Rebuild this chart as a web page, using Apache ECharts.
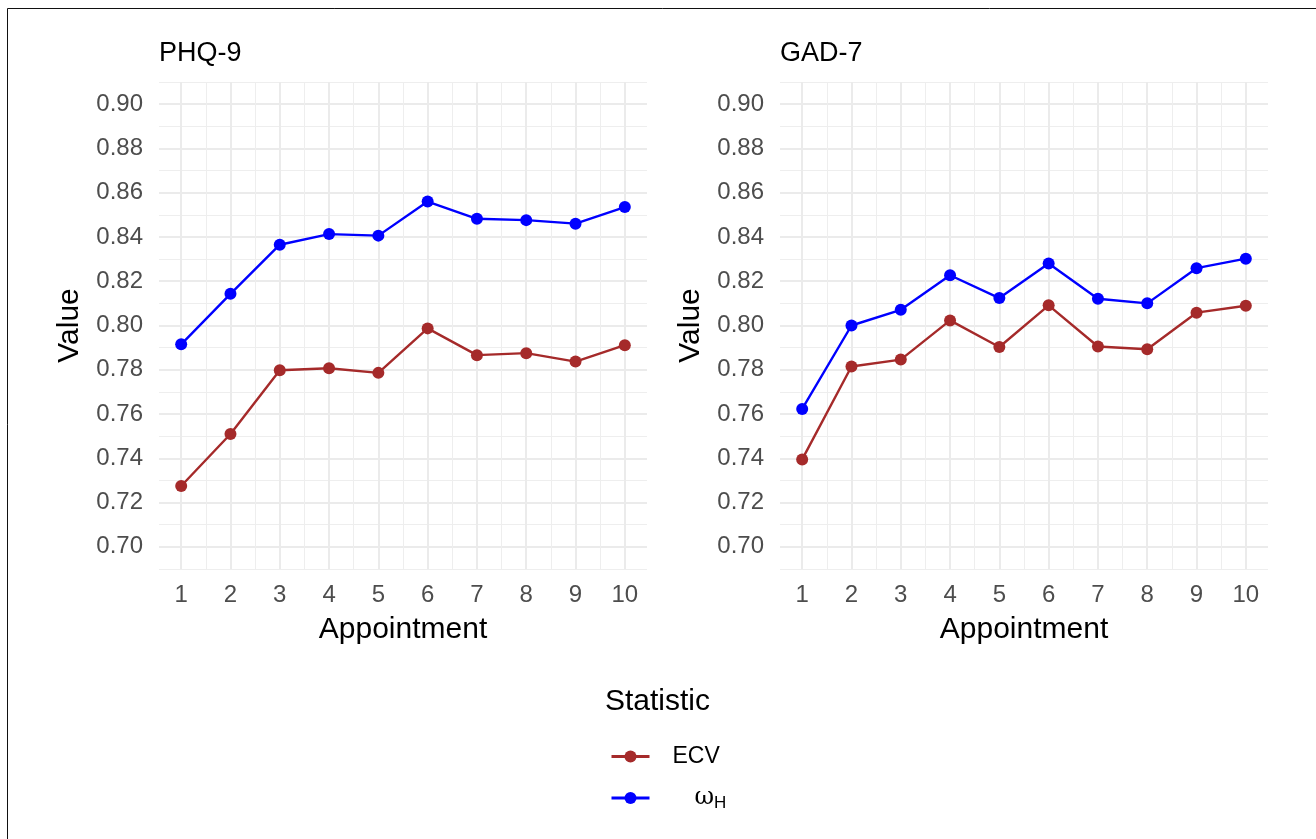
<!DOCTYPE html>
<html>
<head>
<meta charset="utf-8">
<script src="https://cdn.jsdelivr.net/npm/echarts@6/dist/echarts.min.js"></script>
<style>
html,body{margin:0;padding:0;background:#fff;}
#chart{width:1316px;height:839px;}
</style>
</head>
<body>
<div id="chart"></div>
<script>
// ---- data ----
const appointments = [1, 2, 3, 4, 5, 6, 7, 8, 9, 10];
const phqECV   = [0.7275, 0.7510, 0.7798, 0.7807, 0.7786, 0.7987, 0.7866, 0.7875, 0.7837, 0.7911];
const phqOmega = [0.7915, 0.8143, 0.8365, 0.8413, 0.8406, 0.8560, 0.8482, 0.8476, 0.8460, 0.8535];
const gadECV   = [0.7395, 0.7815, 0.7846, 0.8023, 0.7903, 0.8091, 0.7905, 0.7893, 0.8058, 0.8089];
const gadOmega = [0.7623, 0.8000, 0.8071, 0.8227, 0.8124, 0.8280, 0.8121, 0.8100, 0.8259, 0.8302];
const yTicks  = [0.70, 0.72, 0.74, 0.76, 0.78, 0.80, 0.82, 0.84, 0.86, 0.88, 0.90];
const yMinor  = [0.69, 0.71, 0.73, 0.75, 0.77, 0.79, 0.81, 0.83, 0.85, 0.87, 0.89, 0.91];
const xMinor  = [1.5, 2.5, 3.5, 4.5, 5.5, 6.5, 7.5, 8.5, 9.5];
const panelTitles = ['PHQ-9', 'GAD-7'];
const statNames = ['ECV', 'ωH'];

const FONT = '"Liberation Sans", Arial, Helvetica, sans-serif';
const RED = '#A52A2A', BLUE = '#0000FF';
const MAJOR = '#EBEBEB', MINOR = '#EEEEEE';

const pairs = ys => appointments.map((x, i) => [x, ys[i]]);

const gridLeft = [159, 780];
const grids = gridLeft.map(l => ({left: l, top: 82, width: 488, height: 487}));

const xAxes = [], yAxes = [];
[0, 1].forEach(g => {
  xAxes.push({
    gridIndex: g, type: 'value', min: 0.55, max: 10.45,
    axisLine: {show: false}, axisTick: {show: false, customValues: appointments},
    axisLabel: {customValues: appointments, color: '#4D4D4D', fontSize: 24, fontFamily: FONT, margin: 14},
    splitLine: {show: true, lineStyle: {color: MAJOR, width: 2}},
    name: 'Appointment', nameLocation: 'middle', nameGap: 46,
    nameTextStyle: {color: '#000', fontSize: 30, fontFamily: FONT}
  });
  xAxes.push({
    gridIndex: g, type: 'value', min: 0.55, max: 10.45,
    axisLine: {show: false}, axisTick: {show: false, customValues: xMinor},
    axisLabel: {show: false},
    splitLine: {show: true, lineStyle: {color: MINOR, width: 1}}
  });
  yAxes.push({
    gridIndex: g, type: 'value', min: 0.69, max: 0.91,
    axisLine: {show: false}, axisTick: {show: false, customValues: yTicks},
    axisLabel: {customValues: yTicks, color: '#4D4D4D', fontSize: 24, fontFamily: FONT, margin: 16,
                formatter: v => v.toFixed(2)},
    splitLine: {show: true, lineStyle: {color: MAJOR, width: 2}},
    name: 'Value', nameLocation: 'middle', nameGap: 74,
    nameTextStyle: {color: '#000', fontSize: 30, fontFamily: FONT}
  });
  yAxes.push({
    gridIndex: g, type: 'value', min: 0.69, max: 0.91,
    axisLine: {show: false}, axisTick: {show: false, customValues: yMinor},
    axisLabel: {show: false},
    splitLine: {show: true, lineStyle: {color: MINOR, width: 1}}
  });
});

function mk(name, data, color, g) {
  return {
    name: name, type: 'line', xAxisIndex: g * 2, yAxisIndex: g * 2,
    data: pairs(data), symbol: 'circle', symbolSize: 12,
    itemStyle: {color: color}, lineStyle: {color: color, width: 2.4},
    emphasis: {disabled: true}, animation: false, z: 3
  };
}

const option = {
  backgroundColor: '#fff',
  animation: false,
  graphic: [{
    type: 'rect', shape: {x: 7.5, y: 8.5, width: 1400, height: 1000},
    style: {fill: 'none', stroke: '#111', lineWidth: 1}, silent: true
  }],
  title: [
    {text: panelTitles[0], left: 159, top: 40, padding: 0, textStyle: {fontSize: 27, fontWeight: 'normal', color: '#000', fontFamily: FONT}},
    {text: panelTitles[1], left: 780, top: 40, padding: 0, textStyle: {fontSize: 27, fontWeight: 'normal', color: '#000', fontFamily: FONT}},
    {text: 'Statistic', left: 605, top: 687, padding: 0, textStyle: {fontSize: 30, fontWeight: 'normal', color: '#000', fontFamily: FONT}}
  ],
  legend: {
    data: statNames, orient: 'vertical', left: 610, top: 745, padding: 0,
    itemWidth: 38, itemHeight: 15, itemGap: 18,
    lineStyle: {width: 3},
    textStyle: {fontSize: 23, color: '#000', fontFamily: FONT,
      rich: {
        e: {fontSize: 23, fontFamily: FONT, padding: [0, 0, 0, 18]},
        w: {fontSize: 24, fontFamily: '"DejaVu Serif", "Liberation Serif", serif', padding: [0, 0, 0, 40]},
        s: {fontSize: 17, fontFamily: FONT, padding: [10, 0, 0, 0]}
      }},
    formatter: n => n === 'ωH' ? '{w|ω}{s|H}' : '{e|' + n + '}',
    selectedMode: false
  },
  grid: grids,
  xAxis: xAxes,
  yAxis: yAxes,
  series: [
    mk(statNames[0], phqECV, RED, 0),
    mk(statNames[1], phqOmega, BLUE, 0),
    mk(statNames[0], gadECV, RED, 1),
    mk(statNames[1], gadOmega, BLUE, 1)
  ]
};

const chart = echarts.init(document.getElementById('chart'), null, {renderer: 'canvas'});
chart.setOption(option);
</script>
</body>
</html>
